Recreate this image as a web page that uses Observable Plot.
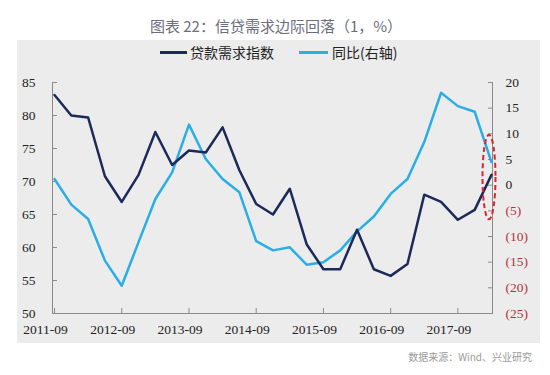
<!DOCTYPE html>
<html><head><meta charset="utf-8">
<script src="https://cdn.jsdelivr.net/npm/d3@7"></script>
<script src="https://cdn.jsdelivr.net/npm/@observablehq/plot@0.6"></script>
<style>
body{margin:0;width:550px;height:375px;background:#fff;position:relative;overflow:hidden;font-family:"Noto Sans CJK SC",sans-serif}
#title{position:absolute;left:0;width:552px;top:15px;text-align:center;font-size:15px;color:#6d6d7b;line-height:22px;white-space:nowrap}
#panel{position:absolute;left:17px;top:40px;width:523px;height:303px;background:#ececec}
.sw{position:absolute;height:3px;top:51px}
.lt{position:absolute;top:43px;font-size:14px;line-height:18px;color:#222;white-space:nowrap}
#chart{position:absolute;left:0;top:0}
#source{position:absolute;right:18px;top:349px;font-size:10px;color:#9a9a9a;white-space:nowrap}
</style></head>
<body>
<div id="title">图表 22：信贷需求边际回落（1，%）</div>
<div id="panel"></div>
<div class="sw" style="left:160px;width:27px;background:#1b2a58"></div>
<div class="lt" style="left:190px">贷款需求指数</div>
<div class="sw" style="left:299px;width:29px;background:#2aaee4"></div>
<div class="lt" style="left:332px">同比(右轴)</div>
<div id="chart"></div>
<div id="source">数据来源：Wind、兴业研究</div>
<script>
const dates = ["2011-09","2011-12","2012-03","2012-06","2012-09","2012-12","2013-03","2013-06","2013-09","2013-12","2014-03","2014-06","2014-09","2014-12","2015-03","2015-06","2015-09","2015-12","2016-03","2016-06","2016-09","2016-12","2017-03","2017-06","2017-09","2017-12","2018-03"];
const demandIndex = [83.1,80.0,79.7,70.8,66.9,71.0,77.5,72.5,74.7,74.4,78.2,71.7,66.6,65.0,68.9,60.5,56.7,56.7,62.7,56.7,55.7,57.5,68.0,66.9,64.2,65.7,71.0];
const yoyPct = [1.2,-3.8,-6.6,-14.7,-19.6,-11.1,-2.7,2.5,11.8,5.1,1.2,-1.4,-10.9,-12.7,-12.1,-15.5,-15.0,-12.7,-9.0,-6.1,-1.7,1.2,8.4,18.0,15.4,14.3,4.5];
const xTickDates = ["2011-09","2012-09","2013-09","2014-09","2015-09","2016-09","2017-09"];
const leftTicks = [50,55,60,65,70,75,80,85];
const rightTicks = [20,15,10,5,0,-5,-10,-15,-20,-25];
const leftDomain = [50, 85];
const rightDomain = [-25, 20];
const highlight = {date: "2018-03", low: 64.2, high: 77.0};

const toLeft = v => leftDomain[0] + (v - rightDomain[0]) * (leftDomain[1] - leftDomain[0]) / (rightDomain[1] - rightDomain[0]);
const fromLeft = v => rightDomain[0] + (v - leftDomain[0]) * (rightDomain[1] - rightDomain[0]) / (leftDomain[1] - leftDomain[0]);
const rows = dates.map((d, i) => ({i, date: d, demand: demandIndex[i], yoy: toLeft(yoyPct[i])}));
const xIdx = xTickDates.map(d => dates.indexOf(d));
const xDomain = [-0.12, dates.length - 1 + 0.06];
const fmtR = v => { const r = Math.round(fromLeft(v)); return r < 0 ? `(${-r})` : `${r}`; };
const axisGray = "#8a8a8a";

const plot = Plot.plot({
  width: 550, height: 345,
  marginLeft: 52, marginRight: 58, marginTop: 82, marginBottom: 32,
  style: {fontFamily: "'Liberation Serif', serif", fontSize: "13.5px", color: "#222", background: "transparent", overflow: "visible"},
  x: {domain: xDomain},
  y: {domain: leftDomain},
  marks: [
    Plot.ruleX([xDomain[0], xDomain[1]], {y1: leftDomain[0], y2: leftDomain[1], stroke: axisGray}),
    Plot.ruleY([leftDomain[0]], {stroke: axisGray}),
    Plot.axisY(leftTicks, {anchor: "left", tickSize: 5, dx: 5, fill: "none", stroke: axisGray, label: null}),
    Plot.axisY(leftTicks, {anchor: "left", tickSize: 0, tickPadding: 17, label: null, fill: "#222"}),
    Plot.axisY(rightTicks.map(toLeft), {anchor: "right", tickSize: 5, dx: -5, fill: "none", stroke: axisGray, label: null}),
    Plot.axisY(rightTicks.filter(v => v >= 0).map(toLeft), {anchor: "right", tickSize: 0, tickPadding: 13, label: null, tickFormat: fmtR, fill: "#222"}),
    Plot.axisY(rightTicks.filter(v => v < 0).map(toLeft), {anchor: "right", tickSize: 0, tickPadding: 13, label: null, tickFormat: fmtR, fill: "#b5313a"}),
    Plot.axisX(xIdx, {anchor: "bottom", tickSize: 5, dy: -5, fill: "none", stroke: axisGray, label: null}),
    Plot.axisX(xIdx, {anchor: "bottom", tickSize: 0, tickPadding: 11, dx: -9, label: null, tickFormat: i => dates[i], fill: "#222"}),
    Plot.line(rows, {x: "i", y: "yoy", stroke: "#2aaee4", strokeWidth: 2.5}),
    Plot.line(rows, {x: "i", y: "demand", stroke: "#1b2a58", strokeWidth: 2.5})
  ]
});
document.getElementById("chart").append(plot);

const xs = plot.scale("x"), ys = plot.scale("y");
const hx = xs.apply(dates.indexOf(highlight.date)) - 2;
const y1 = ys.apply(highlight.high), y2 = ys.apply(highlight.low);
d3.select(plot).append("ellipse")
  .attr("cx", hx).attr("cy", (y1 + y2) / 2)
  .attr("rx", 6.5).attr("ry", (y2 - y1) / 2)
  .attr("fill", "none").attr("stroke", "#d7262c").attr("stroke-width", 2)
  .attr("stroke-dasharray", "5,3");
</script>
</body></html>
